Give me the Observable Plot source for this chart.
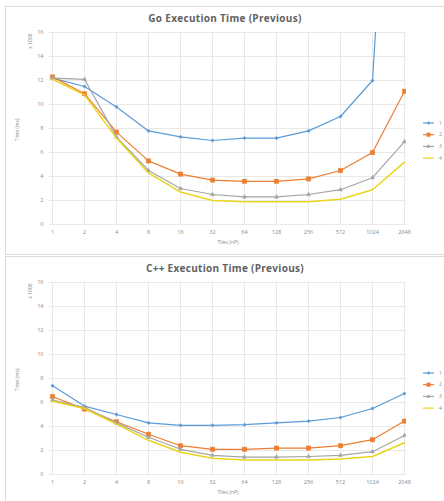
<!DOCTYPE html>
<html>
<head>
<meta charset="utf-8">
<script src="https://cdn.jsdelivr.net/npm/d3@7"></script>
<script src="https://cdn.jsdelivr.net/npm/@observablehq/plot@0.6"></script>
<style>
  html, body { margin: 0; padding: 0; background: #fff; width: 444px; height: 501px; overflow: hidden; position: relative; font-family: "Open Sans", "DejaVu Sans", sans-serif; }
  .panel { position: absolute; left: 5px; width: 460px; border: 1px solid #dcdcdc; box-sizing: border-box; }
  .title { position: absolute; left: 0; width: 450px; text-align: center; font-weight: bold; font-size: 10px; color: #626262; letter-spacing: 0.3px; }
  .chart { position: absolute; left: 0; }
  .vlab { position: absolute; transform: translate(-50%, -50%) rotate(-90deg); font-size: 5px; color: #8a8a8a; white-space: nowrap; }
  .legend { position: absolute; left: 420px; }
</style>
</head>
<body>
<script>
// ---- data ----
const tiles = ["1", "2", "4", "8", "16", "32", "64", "128", "256", "512", "1024", "2048"];
const yTicks = [0, 2, 4, 6, 8, 10, 12, 14, 16];
const seriesNames = ["1", "2", "3", "4"];
const seriesColors = ["#5b9bd5", "#ed7d31", "#a5a5a5", "#ead51c"];
const seriesSymbols = ["diamond2", "square", "triangle", null];

const goTitle = "Go Execution Time (Previous)";
const go1 = [12.2, 11.5, 9.8, 7.8, 7.3, 7.0, 7.2, 7.2, 7.8, 9.0, 12.0, 55];
const go2 = [12.3, 10.9, 7.7, 5.3, 4.2, 3.7, 3.6, 3.6, 3.8, 4.5, 6.0, 11.1];
const go3 = [12.2, 12.1, 7.3, 4.5, 3.0, 2.5, 2.3, 2.3, 2.5, 2.9, 3.9, 6.9];
const go4 = [12.1, 10.8, 7.2, 4.3, 2.7, 2.0, 1.9, 1.9, 1.9, 2.1, 2.9, 5.2];

const cppTitle = "C++ Execution Time (Previous)";
const cpp1 = [7.4, 5.7, 5.0, 4.3, 4.1, 4.1, 4.15, 4.3, 4.45, 4.75, 5.5, 6.75];
const cpp2 = [6.5, 5.45, 4.4, 3.35, 2.4, 2.1, 2.1, 2.2, 2.2, 2.4, 2.9, 4.45];
const cpp3 = [6.2, 5.6, 4.3, 3.1, 2.1, 1.6, 1.45, 1.45, 1.5, 1.6, 1.9, 3.25];
const cpp4 = [6.1, 5.5, 4.2, 2.85, 1.85, 1.35, 1.2, 1.2, 1.2, 1.3, 1.5, 2.65];

const xLabel = "Tiles (nP)";
const yLabel = "Time (ms)";
const yUnit = "x 1000";

function toRows(seriesList) {
  const rows = [];
  seriesList.forEach((vals, si) => {
    vals.forEach((v, i) => rows.push({ tile: tiles[i], value: v, series: seriesNames[si] }));
  });
  return rows;
}

function makeChart(title, seriesList, top) {
  const rows = toRows(seriesList);
  const marks = [
    Plot.gridX(tiles, { stroke: "#e3e3e3", strokeOpacity: 1, strokeWidth: 0.8 }),
    Plot.gridY(yTicks, { stroke: "#e3e3e3", strokeOpacity: 1, strokeWidth: 0.8 }),
    Plot.axisX({ tickSize: 0, tickPadding: 6, fontSize: 5.5, fill: "#8a8a8a", label: null }),
    Plot.axisY({ ticks: yTicks, tickSize: 0, tickPadding: 6, fontSize: 5.5, fill: "#8a8a8a", label: null }),
  ];
  seriesNames.forEach((name, si) => {
    const data = rows.filter(d => d.series === name);
    marks.push(Plot.line(data, { x: "tile", y: "value", stroke: seriesColors[si], strokeWidth: si === 3 ? 1.5 : 1.2, clip: true }));
    if (seriesSymbols[si]) {
      marks.push(Plot.dot(data, {
        x: "tile", y: "value", symbol: seriesSymbols[si], r: si === 1 ? 2.5 : 1.6,
        fill: seriesColors[si], stroke: seriesColors[si], strokeWidth: 0.4, clip: true
      }));
    }
  });
  const chart = Plot.plot({
    width: 444, height: 250,
    marginLeft: 49, marginRight: 38, marginTop: 32, marginBottom: 26,
    style: { background: "transparent", fontFamily: "'Open Sans', sans-serif" },
    x: { type: "point", domain: tiles, padding: 0 },
    y: { domain: [0, 16] },
    marks
  });
  const wrap = document.createElement("div");
  wrap.className = "chart";
  wrap.style.top = top + "px";
  wrap.appendChild(chart);
  document.body.appendChild(wrap);

  const t = document.createElement("div");
  t.className = "title";
  t.style.top = (top + 11) + "px";
  t.textContent = title;
  document.body.appendChild(t);

  const xl = document.createElement("div");
  xl.style.cssText = `position:absolute;left:188px;width:80px;text-align:center;top:${top + 239}px;font-size:5px;color:#8a8a8a;`;
  xl.textContent = xLabel;
  document.body.appendChild(xl);

  const yl = document.createElement("div");
  yl.className = "vlab";
  yl.style.left = "17px"; yl.style.top = (top + 130) + "px";
  yl.textContent = yLabel;
  document.body.appendChild(yl);

  const yu = document.createElement("div");
  yu.className = "vlab";
  yu.style.left = "30px"; yu.style.top = (top + 41) + "px";
  yu.textContent = yUnit;
  document.body.appendChild(yu);

  // legend
  const leg = d3.create("svg").attr("width", 30).attr("height", 48);
  seriesNames.forEach((name, si) => {
    const y = 4 + si * 11.7;
    leg.append("line").attr("x1", 3).attr("x2", 14).attr("y1", y).attr("y2", y)
      .attr("stroke", seriesColors[si]).attr("stroke-width", 1.2);
    if (seriesSymbols[si]) {
      const sym = { diamond2: d3.symbolDiamond2, square: d3.symbolSquare, triangle: d3.symbolTriangle }[seriesSymbols[si]];
      leg.append("path").attr("d", d3.symbol(sym, si === 1 ? 16 : 8)()).attr("transform", `translate(8.5,${y})`)
        .attr("fill", seriesColors[si]);
    }
    leg.append("text").attr("x", 19).attr("y", y).attr("dy", "0.35em").attr("font-size", 5)
      .attr("fill", "#8a8a8a").text(name);
  });
  const lw = document.createElement("div");
  lw.className = "legend";
  lw.style.top = (top + 119) + "px";
  lw.appendChild(leg.node());
  document.body.appendChild(lw);
}

const p1 = document.createElement("div");
p1.className = "panel"; p1.style.top = "6px"; p1.style.height = "249px";
document.body.appendChild(p1);
const p2 = document.createElement("div");
p2.className = "panel"; p2.style.top = "256px"; p2.style.height = "260px";
document.body.appendChild(p2);

makeChart(goTitle, [go1, go2, go3, go4], 0);
makeChart(cppTitle, [cpp1, cpp2, cpp3, cpp4], 250);
</script>
</body>
</html>
